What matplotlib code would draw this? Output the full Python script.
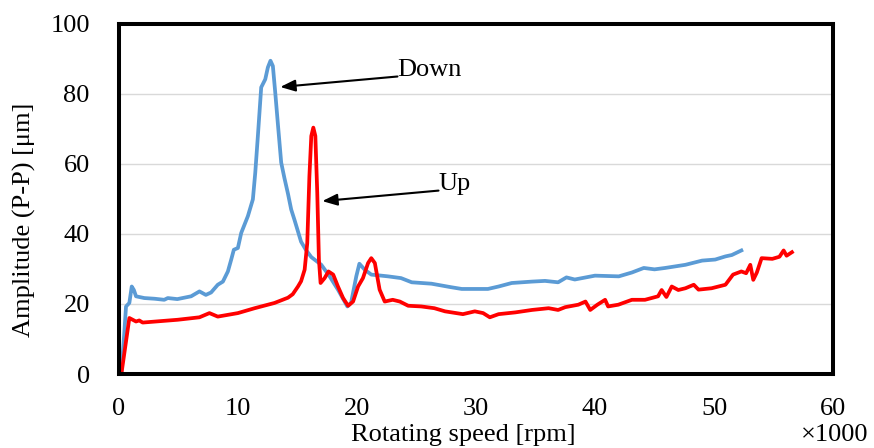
import matplotlib
matplotlib.use("Agg")
import matplotlib.pyplot as plt

plt.rcParams['font.family'] = ['Liberation Serif', 'DejaVu Serif']

# speed in 1000 rpm, amplitude in um
down_speed = [0.2, 0.45, 0.59, 0.87, 1.07, 1.25, 1.43, 2.13, 3.0, 3.8, 4.1, 4.9,
              6.06, 6.76, 7.3, 7.74, 8.3, 8.73, 9.15, 9.43, 9.65, 9.99, 10.27,
              10.83, 11.25, 11.45, 11.67, 11.95, 12.29, 12.51, 12.73, 12.93,
              13.13, 13.35, 13.63, 13.9, 14.2, 14.47, 14.75, 15.3, 15.7, 16.16,
              17.0, 17.7, 18.4, 19.19, 19.5, 19.94, 20.2, 20.65, 21.2, 22.6,
              23.7, 24.6, 26.26, 27.9, 28.8, 31.0, 31.9, 33.0, 34.7, 35.8, 36.9,
              37.6, 38.3, 40.0, 42.0, 43.1, 44.1, 45.0, 45.9, 47.6, 49.0, 50.1,
              50.96, 51.5, 52.3]
down_amp = [0.5, 12, 19.3, 20.3, 25, 24, 22.2, 21.7, 21.5, 21.2, 21.7, 21.4,
            22.2, 23.6, 22.6, 23.3, 25.5, 26.4, 29.3, 32.7, 35.5, 36.0, 40.3,
            45.1, 49.9, 57.5, 68, 81.9, 84.2, 87.6, 89.5, 88,
            80.4, 71.5, 60.4, 56, 51.5, 47, 44, 37.8, 35.5, 33.4,
            31.2, 27.9, 24.1, 19.3, 20.3, 27.9, 31.5, 29.8, 28.4, 27.9,
            27.4, 26.2, 25.8, 24.8, 24.3, 24.3, 25, 26, 26.4, 26.6, 26.2,
            27.6, 27, 28.1, 27.9, 29, 30.3, 29.9, 30.3, 31.2, 32.4, 32.7,
            33.6, 34, 35.3]

up_speed = [0.2, 0.87, 1.15, 1.43, 1.7, 1.99, 4.94, 6.76, 7.6, 8.3, 9.99, 11.4,
            13.07, 14.2, 14.6, 15.04, 15.3, 15.6, 15.82, 16.0, 16.16, 16.33,
            16.5, 16.66, 16.8, 16.94, 17.28, 17.6, 18.0, 18.4, 18.83, 19.25,
            19.67, 20.09, 20.5, 20.93, 21.2, 21.5, 21.9, 22.33, 23.0, 23.6,
            24.3, 25.4, 26.5, 27.4, 28.9, 29.9, 30.6, 31.16, 31.9, 33.3, 34.7,
            36.1, 36.9, 37.5, 38.6, 39.2, 39.6, 40.2, 40.85, 41.1, 41.96, 43.1,
            44.2, 45.3, 45.6, 46.0, 46.45, 47.0, 47.6, 48.3, 48.7, 49.8, 50.96,
            51.6, 52.3, 52.7, 53.05, 53.3, 53.6, 54.0, 54.9, 55.5, 55.85, 56.1,
            56.55]
up_amp = [0, 16, 15.5, 15, 15.3, 14.7, 15.5, 16.2, 17.4, 16.4, 17.4, 18.8,
          20.3, 21.8, 22.8, 25, 26.5, 29.8, 37.4, 56.5, 68, 70.4,
          68, 51.8, 32.7, 26, 27.4, 29.3, 28.4, 25, 21.7, 19.5,
          20.7, 25, 27.4, 31.7, 33.1, 31.7, 24.1, 20.7, 21.2, 20.7,
          19.5, 19.3, 18.8, 17.9, 17.1, 17.9, 17.4, 16.2, 17.1, 17.6, 18.3,
          18.8, 18.3, 19.1, 19.8, 20.7, 18.3, 19.8, 21.2, 19.3, 19.8, 21.2,
          21.2, 22.2, 24, 22.0, 25, 24, 24.5, 25.5, 24.1, 24.5, 25.5,
          28.4, 29.3, 28.8, 31.2, 26.9, 29, 33.1, 32.9, 33.5, 35.3, 33.8,
          34.8]

xticks = [0, 10, 20, 30, 40, 50, 60]
yticks = [0, 20, 40, 60, 80, 100]

fig = plt.figure(figsize=(8.74, 4.48), dpi=100)
ax = fig.add_axes([119 / 874, 74 / 448, 714 / 874, 350 / 448])

ax.plot(down_speed, down_amp, color='#5B9BD5', lw=2.7, solid_joinstyle='round')
ax.plot(up_speed, up_amp, color='#FF0000', lw=2.7, solid_joinstyle='round')

ax.set_xlim(0, 60)
ax.set_ylim(0, 100)
ax.set_xticks(xticks)
ax.set_yticks(yticks)
ax.tick_params(axis='x', length=0, pad=17, labelsize=19)
ax.tick_params(axis='y', length=0, pad=21, labelsize=19)
ax.grid(axis='y', color='#d9d9d9', lw=1.0)
ax.set_axisbelow(True)
for s in ax.spines.values():
    s.set_linewidth(2.9)
    s.set_color('black')

# annotations
arrow = dict(arrowstyle='-|>,head_length=0.9,head_width=0.35', color='black', lw=1.5,
             shrinkA=0, shrinkB=0)
ax.annotate('', xy=(13.55, 82.0), xytext=(23.4, 85.0), arrowprops=arrow)
ax.annotate('', xy=(17.08, 49.4), xytext=(26.85, 52.4), arrowprops=arrow)
ax.text(23.4, 85.2, 'Down', fontsize=19, ha='left', va='baseline')
ax.text(26.85, 52.7, 'Up', fontsize=19, ha='left', va='baseline')

fig.text(463 / 874, 1 - 441 / 448, 'Rotating speed [rpm]', fontsize=19,
         ha='center', va='baseline')
fig.text(835 / 874, 1 - 441 / 448, '×1000', fontsize=19, ha='center', va='baseline')
fig.text(24 / 874, 1 - 220 / 448, 'Amplitude (P-P) [μm]', fontsize=19,
         rotation=90, ha='center', va='center')

fig.savefig('out.png', dpi=100)
